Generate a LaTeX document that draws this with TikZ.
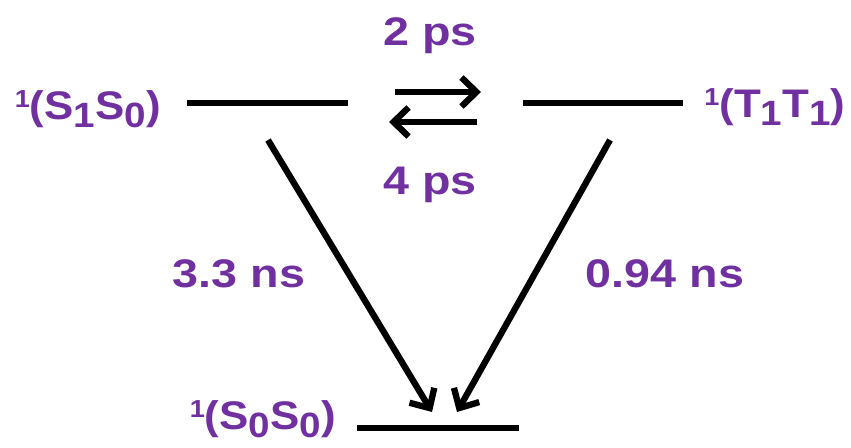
\documentclass[tikz,border=0pt]{standalone}
\usepackage{fontspec}
\setmainfont{Liberation Sans}
\usepackage{graphicx}
\usetikzlibrary{arrows.meta,positioning}
\definecolor{Rate}{HTML}{7030A0}
\newcommand{\wide}[1]{\scalebox{1.17}[1]{#1}}
\newcommand{\hi}[1]{\raisebox{6.8pt}{\fontsize{14}{14}\selectfont #1}}
\newcommand{\lo}[1]{\raisebox{-5pt}{\fontsize{20}{20}\selectfont #1}}

\begin{document}
\begin{tikzpicture}[x=0.02cm,y=-0.02cm,
  every node/.style={font=\fontsize{22.7}{27}\selectfont\bfseries,text=Rate,inner sep=0pt},
  level/.style={line width=3.6pt},
  trans/.style={line width=3.6pt,-{Straight Barb[length=0.3cm,width=0.58cm]}}]
  \useasboundingbox (0,0) rectangle (851,447);
  % levels
  \coordinate (s1a) at (187,103); \coordinate (s1b) at (348,103);
  \coordinate (t1a) at (523,103); \coordinate (t1b) at (683,103);
  \coordinate (s0a) at (357,428); \coordinate (s0b) at (519,428);
  \draw[level] (s1a) -- (s1b);
  \draw[level] (t1a) -- (t1b);
  \draw[level] (s0a) -- (s0b);
  % state labels
  \node[anchor=base east] (ls1) at (161,119) {\scalebox{1.1}[1]{\hi{1}(S\lo{1}S\lo{0})}};
  \node[anchor=base west] (lt1) at (704,117) {\scalebox{1.1}[1]{\hi{1}(T\lo{1}T\lo{1})}};
  \node[anchor=base east] (ls0) at (336,429) {\scalebox{1.1}[1]{\hi{1}(S\lo{0}S\lo{0})}};
  % fission and fusion
  \coordinate (fa) at (395,92); \coordinate (fb) at (481,92);
  \coordinate (ba) at (477,122); \coordinate (bb) at (389,122);
  \draw[trans] (fa) -- (fb);
  \draw[trans] (ba) -- (bb);
  \node[anchor=base] (kf) at (430,45) {\wide{2 ps}};
  \node[anchor=base] (kb) at (430,194) {\wide{4 ps}};
  % decay
  \coordinate (da) at (268,140); \coordinate (db) at (432,412);
  \coordinate (ea) at (610,140); \coordinate (eb) at (457,412);
  \draw[trans] (da) -- (db);
  \draw[trans] (ea) -- (eb);
  \node[anchor=base] (kd) at (239,287) {\wide{3.3 ns}};
  \node[anchor=base] (ke) at (665,287) {\wide{0.94 ns}};
\end{tikzpicture}
\end{document}
